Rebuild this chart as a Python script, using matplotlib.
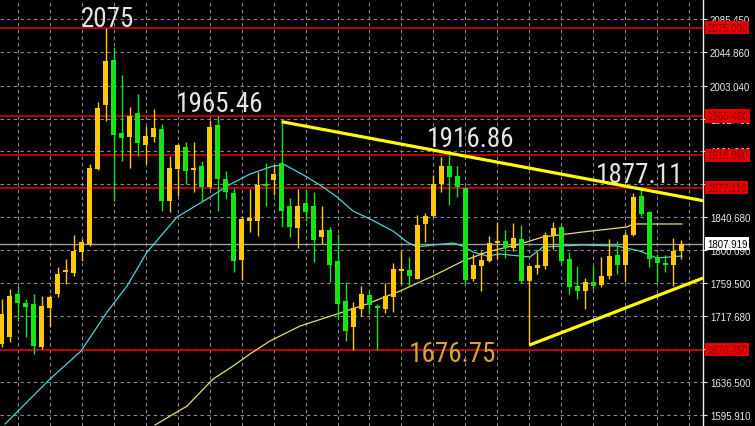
import matplotlib
matplotlib.use("Agg")
import matplotlib.pyplot as plt
import matplotlib.transforms as mtransforms

# ---------------------------
# Data
# ---------------------------
opens = [1683.5, 1692.6, 1745.4, 1734.3, 1733.1, 1679.5, 1728.1, 1745.4, 1772.7, 1771.1,
         1797.8, 1807.3, 1900.1, 1979.7, 2035.0, 1944.7, 1940.1, 1969.1, 1930.2, 1940.1,
         1949.6, 1860.9, 1900.1, 1927.7, 1898.9, 1904.2, 1878.2, 1954.6, 1887.8, 1870.4,
         1787.9, 1836.1, 1836.1, 1881.6, 1886.9, 1907.6, 1854.0, 1826.7, 1857.7, 1854.0,
         1816.3, 1825.0, 1786.6, 1737.1, 1704.2, 1726.9, 1744.2, 1731.0, 1726.9, 1741.3,
         1773.9, 1775.1, 1764.0, 1832.1, 1842.3, 1881.6, 1903.5, 1891.1, 1876.6, 1764.0,
         1780.5, 1786.6, 1808.2, 1811.0, 1802.0, 1813.5, 1761.9, 1778.0, 1780.5, 1817.6,
         1828.0, 1788.7, 1755.0, 1749.5, 1760.7, 1756.6, 1767.3, 1793.7, 1781.3, 1818.4,
         1867.1, 1847.3, 1790.9, 1783.4, 1781.3, 1799.0]
highs = [1739.2, 1751.6, 1755.7, 1739.2, 1745.4, 1743.3, 1744.2, 1778.5, 1788.7, 1818.8,
         1813.5, 1906.3, 1982.7, 2075.0, 2050.7, 2016.5, 1977.2, 1993.0, 1953.7, 1974.4,
         1955.8, 1916.6, 1931.1, 1933.2, 1933.2, 1910.4, 1961.1, 1965.46, 1898.0, 1876.2,
         1842.3, 1875.4, 1896.0, 1907.6, 1905.1, 1959.5, 1863.9, 1875.4, 1875.4, 1871.3,
         1854.7, 1828.0, 1819.7, 1759.9, 1735.2, 1755.7, 1749.5, 1732.5, 1759.0, 1783.8,
         1799.0, 1790.9, 1843.2, 1845.7, 1892.7, 1914.6, 1916.86, 1904.2, 1877.5, 1794.9,
         1799.0, 1817.6, 1834.9, 1825.0, 1833.3, 1830.8, 1780.0, 1797.0, 1821.8, 1834.2,
         1830.8, 1797.0, 1780.5, 1764.9, 1780.5, 1790.9, 1813.5, 1811.4, 1821.8, 1870.4,
         1877.11, 1848.5, 1794.9, 1793.7, 1814.4, 1812.6]
lows = [1679.8, 1685.7, 1712.4, 1692.2, 1671.2, 1677.4, 1704.2, 1741.3, 1757.8, 1768.1,
        1786.6, 1805.2, 1898.9, 1959.9, 1860.9, 1910.4, 1901.4, 1916.6, 1906.3, 1933.2,
        1848.5, 1846.5, 1867.1, 1881.6, 1871.3, 1860.9, 1875.4, 1848.5, 1863.0, 1773.0,
        1763.1, 1821.8, 1817.6, 1854.7, 1868.0, 1828.0, 1815.6, 1802.0, 1836.1, 1784.7,
        1807.3, 1759.9, 1714.5, 1687.6, 1676.75, 1718.6, 1720.7, 1676.75, 1721.9, 1722.8,
        1757.8, 1755.7, 1763.5, 1809.4, 1840.4, 1872.0, 1855.6, 1865.1, 1757.8, 1761.9,
        1749.5, 1784.7, 1788.7, 1789.6, 1799.0, 1759.0, 1682.3, 1770.2, 1776.4, 1801.1,
        1782.6, 1745.4, 1739.2, 1726.9, 1751.6, 1753.7, 1764.0, 1770.2, 1759.9, 1817.6,
        1842.3, 1778.5, 1759.9, 1772.3, 1755.7, 1788.7]
closes = [1720.7, 1743.3, 1734.3, 1729.0, 1681.4, 1730.2, 1741.3, 1770.2, 1775.1, 1799.0,
          1809.4, 1901.4, 1975.3, 2034.2, 1942.6, 1938.5, 1965.4, 1932.3, 1941.3, 1950.9,
          1860.2, 1901.4, 1929.8, 1898.0, 1901.4, 1878.2, 1952.5, 1887.8, 1871.3, 1786.6,
          1838.3, 1839.5, 1880.3, 1879.5, 1893.9, 1848.5, 1828.0, 1854.0, 1847.3, 1812.6,
          1825.0, 1781.3, 1733.1, 1700.0, 1727.7, 1745.4, 1732.2, 1728.1, 1742.6, 1776.4,
          1776.4, 1768.1, 1830.8, 1841.6, 1881.6, 1903.5, 1890.6, 1877.5, 1762.8, 1781.3,
          1787.9, 1808.2, 1810.7, 1802.0, 1814.7, 1761.9, 1779.7, 1781.3, 1818.4, 1827.1,
          1786.6, 1753.7, 1749.5, 1759.9, 1755.7, 1767.3, 1792.1, 1781.3, 1818.4, 1865.1,
          1844.4, 1788.7, 1783.4, 1781.7, 1799.0, 1807.919]

# moving averages (bar index, price)
ma_fast_x = [0.44, 3.94, 6.06, 9.94, 13.19, 15.69, 18.19, 19.81, 21.94, 25.69, 28.19,
             31.06, 33.94, 35.44, 38.19, 40.19, 41.94, 43.94, 46.06, 48.94, 50.69,
             51.94, 53.94, 56.44, 57.69, 58.94, 60.69, 62.31, 66.06, 67.69, 72.69,
             76.94, 79.81, 81.94, 85.06]
ma_fast_y = [1584.5, 1619.2, 1640.2, 1674.9, 1723.1, 1755.3, 1797.4, 1816.0, 1840.7,
             1863.0, 1879.1, 1893.9, 1903.8, 1905.1, 1890.2, 1877.8, 1865.5, 1848.1,
             1838.3, 1823.4, 1809.8, 1803.6, 1806.1, 1808.5, 1804.8, 1797.4, 1792.5,
             1794.9, 1791.2, 1803.6, 1806.1, 1804.8, 1798.6, 1790.0, 1792.5]
ma_slow_x = [19.19, 23.19, 26.44, 28.94, 31.06, 33.56, 37.31, 41.94, 45.69, 49.81,
             53.94, 57.69, 60.69, 64.81, 67.69, 72.69, 78.19, 78.94, 85.06]
ma_slow_y = [1583.3, 1606.8, 1640.2, 1656.3, 1671.2, 1687.3, 1705.8, 1720.7, 1733.1,
             1749.1, 1767.7, 1786.3, 1797.4, 1807.3, 1816.0, 1822.2, 1828.4, 1832.1,
             1832.1]

# key levels and trendlines
levels = [2075.0, 1965.46, 1916.86, 1877.11, 1676.75]
last_price = 1807.919
upper_trend = ([35, 87.7], [1958.7, 1860.9])
lower_trend = ([66, 87.7], [1682.3, 1765.2])

tick_prices = [2085.450, 2044.860, 2003.040, 1962.450, 1921.860, 1881.270, 1840.680,
               1800.090, 1759.500, 1717.680, 1677.090, 1636.500, 1595.910]
hidden_ticks = [1881.270, 1677.090]  # fully under the level labels

notes = [("2075", 13.2, 2077.0, "#e4e4e4"),
         ("1965.46", 27.3, 1972.0, "#e4e4e4"),
         ("1916.86", 58.6, 1928.5, "#e4e4e4"),
         ("1877.11", 79.8, 1884.0, "#e4e4e4"),
         ("1676.75", 56.4, 1662.5, "#e0a030")]

UP = "#ffc800"
DOWN = "#14e614"
FAM = ["Roboto Condensed", "DejaVu Sans"]

fig = plt.figure(figsize=(7.55, 4.27), dpi=100, facecolor="black")
ax = fig.add_axes([0, 0, 703 / 755, 1])
ax.set_facecolor("black")
ax.set_xlim(-0.19, 87.69)
ax.set_ylim(1582.1, 2110.5)

# grid
for p in tick_prices:
    ax.axhline(p, color="#8a8a9a", lw=0.8, ls=(0, (3, 3)), zorder=1)
for gx in range(2, 88, 4):
    ax.axvline(gx, color="#8a8a9a", lw=0.8, ls=(0, (3, 3)), zorder=1)

# levels
for lv in levels:
    ax.axhline(lv, color="#c80000", lw=1.3, zorder=2)
ax.axhline(last_price, color="#a0a0a0", lw=1.0, zorder=2)

# moving averages
ax.plot(ma_fast_x, ma_fast_y, color="#48d8d8", lw=0.9, zorder=3)
ax.plot(ma_slow_x, ma_slow_y, color="#e8dc70", lw=0.9, zorder=3)

# candles
for i, (o, h, l, c) in enumerate(zip(opens, highs, lows, closes)):
    col = UP if c >= o else DOWN
    ax.vlines(i, l, h, color=col, lw=1.0, zorder=4)
    ax.bar(i, max(abs(c - o), 1.6), bottom=min(o, c), width=0.62, color=col,
           edgecolor="none", zorder=5)

# trendlines
ax.plot(*upper_trend, color="#ffff00", lw=2.3, zorder=6, solid_capstyle="butt")
ax.plot(*lower_trend, color="#ffff00", lw=2.3, zorder=6, solid_capstyle="butt")

# annotations
for txt, x, y, col in notes:
    ax.text(x, y, txt, color=col, fontsize=19.5, family=FAM, ha="center", va="baseline",
            zorder=7)

# right price axis
ax.yaxis.tick_right()
ax.set_yticks(tick_prices)
ax.set_yticklabels(["" if p in hidden_ticks else f"{p:.3f}" for p in tick_prices])
ax.tick_params(axis="y", colors="#e8e8e8", labelsize=7, length=3, width=0.8, pad=2)
ax.set_xticks([])
for s in ["left", "top", "bottom"]:
    ax.spines[s].set_visible(False)
ax.spines["right"].set_color("#f0f0f0")
ax.spines["right"].set_linewidth(1.0)
for lab in ax.get_yticklabels():
    lab.set_family("Liberation Sans")

trans = mtransforms.blended_transform_factory(ax.transAxes, ax.transData)
for lv in levels:
    ax.annotate(f"{lv:.3f}", xy=(1, lv), xycoords=trans, xytext=(3, 0),
                textcoords="offset points", ha="left", va="center", fontsize=7,
                family="Liberation Sans", color="#8a0000", annotation_clip=False,
                bbox=dict(boxstyle="square,pad=0.18", fc="#e80000", ec="none"), zorder=10)
ax.annotate(f"{last_price:.3f}", xy=(1, last_price), xycoords=trans, xytext=(3, 0),
            textcoords="offset points", ha="left", va="center", fontsize=7,
            family="Liberation Sans", color="black", annotation_clip=False,
            bbox=dict(boxstyle="square,pad=0.18", fc="white", ec="none"), zorder=10)

fig.savefig("out.png", dpi=100, facecolor="black")
